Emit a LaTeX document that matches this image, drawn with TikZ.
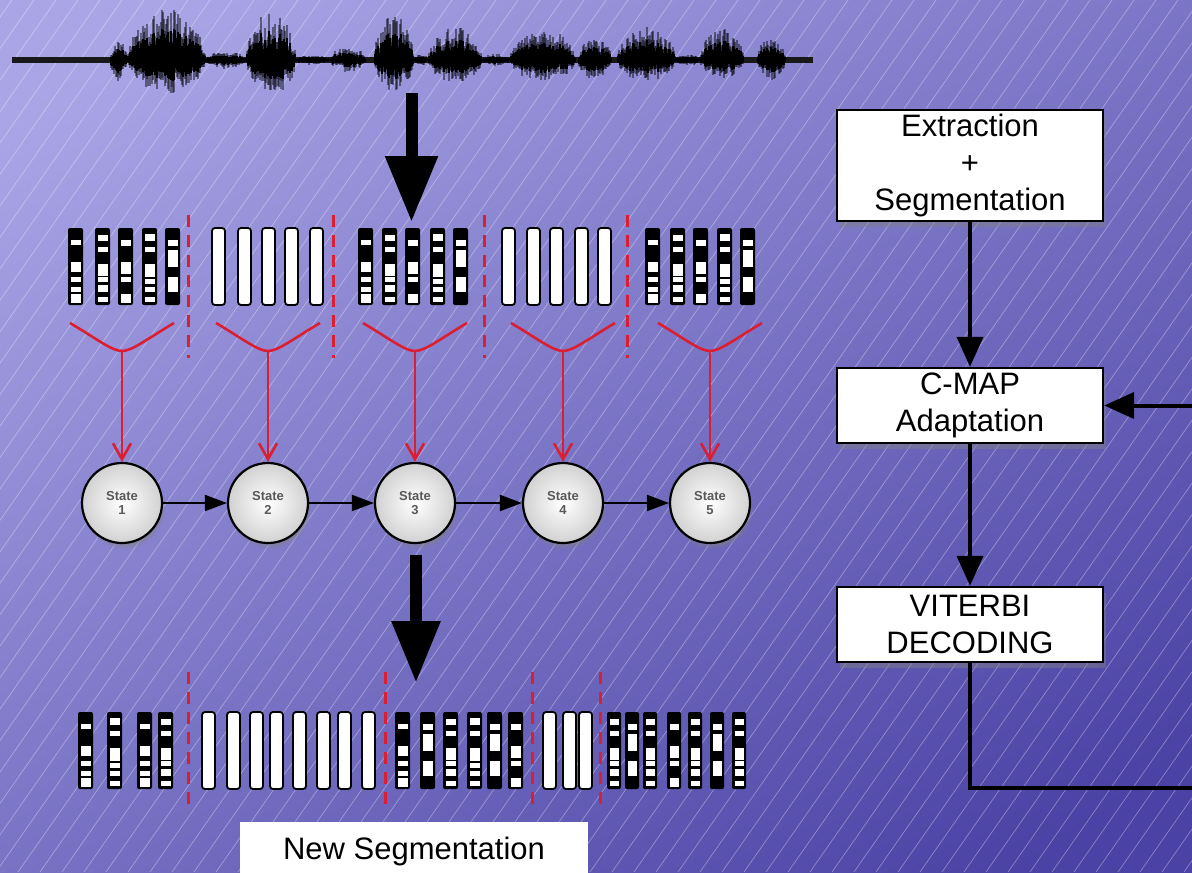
\documentclass[tikz,border=0pt]{standalone}
\usepackage{fontspec}
\setmainfont{Liberation Sans}
\usetikzlibrary{arrows.meta,shadows,calc}
\definecolor{bgA}{HTML}{AAA6E6}
\definecolor{bgB}{HTML}{4A42A4}
\definecolor{segred}{HTML}{DC1E32}
\def\patA{12/17,34/44,49/54,59/64,66/75}
\def\patB{7/13,19/24,36/48,49/54,57/64,69/74}
\def\patC{12/18,34/46,49/54,66/75}
\def\patD{6/13,19/24,36/49,51/56,59/64,69/74}
\def\patE{12/18,22/39,49/64}
\newcommand\dbar[4]{%
  \fill[black,rounded corners=1pt] (#1,#2) rectangle ++(#3,77);
  \edef\curpat{\csname pat#4\endcsname}%
  \foreach \pa/\pb in \curpat {\fill[white] ({#1+3},{#2+\pa}) rectangle ({#1+#3-2.5},{#2+\pb});}}
\newcommand\wbar[3]{\draw[black,line width=0.9pt,fill=white,rounded corners=1.5pt] (#1,#2) rectangle ++(#3,77);}
\tikzset{
  hmmstate/.style={circle,draw=black,line width=1.1pt,minimum size=40pt,inner sep=0pt,
    inner color=white,outer color=black!18,
    circular drop shadow={shadow xshift=1pt,shadow yshift=-2.5pt,shadow scale=1.03,opacity=.6},
    font=\fontsize{6.5}{7.2}\selectfont\bfseries,text=black!65,align=center},
  procbox/.style={rectangle,draw=black,line width=1.2pt,fill=white,minimum width=133pt,
    align=center,inner sep=0pt,font=\fontsize{15.5}{18.5}\selectfont,
    drop shadow={shadow xshift=1.5pt,shadow yshift=-3pt,opacity=.45}},
  conn/.style={black,line width=2pt,-{Triangle[length=15pt,width=13pt]}},
  sarrow/.style={black,line width=1pt,-{Triangle[length=11pt,width=8pt]}},
  redline/.style={segred,line width=1.3pt},
  segdash/.style={segred,line width=1.5pt,dash pattern=on 6pt off 4pt},
  bigarrow/.style={black,line width=6pt},
}
\begin{document}
\begin{tikzpicture}[x=0.5pt,y=-0.5pt]
\useasboundingbox (0,0) rectangle (1192,872);
\clip (0,0) rectangle (1192,872);
% background
\shade[top color=bgA,bottom color=bgB,shading angle=35] (-100,-100) rectangle (1292,972);
\foreach \x in {-620,-598,...,1200} \draw[white,opacity=0.35,line width=0.35pt] (\x,872) -- ++(610,-872);
% waveform
\pgfmathsetseed{11}
\draw[line width=3pt,black!90] (12,60) -- (813,60);
\foreach \xa/\xb/\up/\dn in {110/127/20/22,127/206/52/34,206/246/9/9,246/296/48/36,296/330/5/5,330/366/14/12,374/414/47/31,414/428/6/6,428/482/33/23,482/510/6/6,510/576/32/22,578/612/22/20,617/676/33/22,676/700/6/6,700/744/32/18,757/786/23/20}{
  \foreach \x in {\xa,...,\xb}{
    \pgfmathsetmacro\env{sqrt(abs(sin(180*(\x-\xa)/(\xb-\xa))))}
    \pgfmathsetmacro\ru{\up*\env*(0.35+0.65*rnd)}
    \pgfmathsetmacro\rd{\dn*\env*(0.35+0.65*rnd)}
    \draw[black,opacity=0.45,line width=0.7pt] (\x,60-\ru) -- (\x,60+\rd);
    \draw[black,line width=0.7pt] (\x,60-0.62*\ru) -- (\x,60+0.62*\rd);
  }}
% big arrow 1
\coordinate (wavebot) at (411.5,93);
\coordinate (featop) at (411.5,222);
\draw[bigarrow,-{Triangle[length=33pt,width=25pt]}] (wavebot) -- (featop);
% top feature bars
\foreach \x/\p in {68/A,95/B,118/C,142/D,165/E,358/A,382/B,405/C,430/D,453/E,645/A,670/B,693/C,717/D,740/E} {\dbar{\x}{228}{15}{\p}}
\foreach \x in {212,238,262,285,310,502,527,550,575,598} {\wbar{\x}{228}{13}}
\foreach \x in {188,333,484,627} \draw[segdash] (\x,215) -- (\x,358);
% states
\node[hmmstate] (s1) at (122,503) {State\\1};
\node[hmmstate] (s2) at (268,503) {State\\2};
\node[hmmstate] (s3) at (415,503) {State\\3};
\node[hmmstate] (s4) at (563,503) {State\\4};
\node[hmmstate] (s5) at (710,503) {State\\5};
\draw[sarrow] (s1) -- (s2);
\draw[sarrow] (s2) -- (s3);
\draw[sarrow] (s3) -- (s4);
\draw[sarrow] (s4) -- (s5);
\foreach \cx/\s in {122/s1,268/s2,415/s3,563/s4,710/s5}{
  \draw[redline] (\cx-52,323) .. controls (\cx-25,339) and (\cx-10,351) .. (\cx,351) .. controls (\cx+10,351) and (\cx+25,339) .. (\cx+52,323);
  \coordinate (y\s) at (\cx,351);
  \draw[redline,-{Straight Barb[length=8pt,width=9pt]}] (y\s) -- (\s.north);
}
% big arrow 2
\coordinate (s3bot) at (416,555);
\coordinate (newtop) at (416,683);
\draw[bigarrow,-{Triangle[length=31pt,width=23pt]}] (s3bot) -- (newtop);
% bottom feature bars
\foreach \x/\p in {78/A,107/D,137/A,158/B,395/A,420/E,443/B,467/D,487/E,508/C} {\dbar{\x}{712}{15}{\p}}
\foreach \x/\p in {607/B,625/E,643/B,667/C,688/B,710/E,732/B} {\dbar{\x}{712}{14}{\p}}
\foreach \x in {202,227,250,270,293,317,338,362,543,563,579} {\wbar{\x}{712}{13}}
\foreach \x in {188,385,532,600} \draw[segdash] (\x,672) -- (\x,812);
% new segmentation label
\node[fill=white,minimum width=174pt,minimum height=29pt,inner sep=0pt,font=\fontsize{15.5}{18.5}\selectfont] (newseg) at (414,851) {New Segmentation};
% right flow
\node[procbox,minimum height=55.5pt] (ext) at (970,165.5) {Extraction\\+\\Segmentation};
\node[procbox,minimum height=37.5pt] (cmap) at (970,405.5) {C-MAP\\Adaptation};
\node[procbox,minimum height=37.5pt] (vit) at (970,624.5) {VITERBI\\DECODING};
\draw[conn] (ext) -- (cmap);
\draw[conn] (cmap) -- (vit);
\coordinate (fb1) at (1240,788);
\coordinate (fb2) at (1240,405.5);
\draw[conn] (vit.south) |- (fb1) -- (fb2) -- (cmap.east);
\end{tikzpicture}
\end{document}
